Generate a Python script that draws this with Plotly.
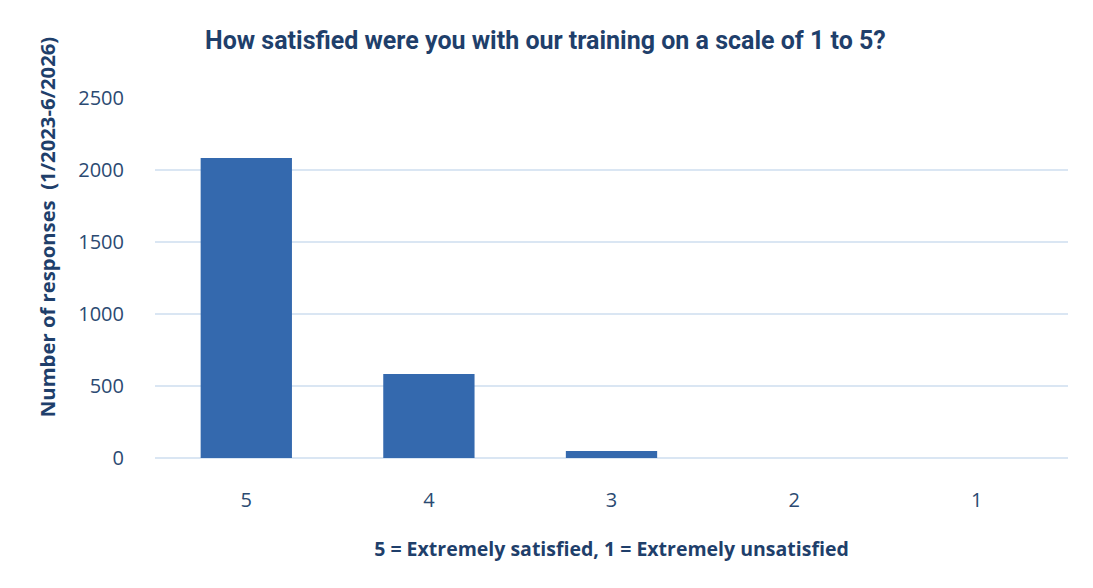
import plotly.graph_objects as go

categories = ["5", "4", "3", "2", "1"]
responses = [2083, 583, 49, 0, 0]
y_ticks = [0, 500, 1000, 1500, 2000, 2500]

navy = "#1f3f6b"
fig = go.Figure(go.Bar(
    x=categories, y=responses, width=0.5,
    marker=dict(color="#3469ae", line=dict(width=0)),
))
fig.update_layout(
    width=1093, height=588,
    margin=dict(l=155, r=25, t=98, b=130),
    plot_bgcolor="white", paper_bgcolor="white",
    title=dict(text="<b>How satisfied were you with our training on a scale of 1 to 5?</b>",
               x=0.499, xanchor="center", y=0.932, yanchor="middle",
               font=dict(family="Roboto", size=25, color=navy)),
    showlegend=False,
    font=dict(family="Open Sans", color="#2b4a72"),
)
fig.update_xaxes(
    showgrid=False, showline=False, ticks="", tickfont=dict(size=20),
    ticklabelstandoff=28,
    title=dict(text="<b>5 = Extremely satisfied, 1 = Extremely unsatisfied</b>",
               font=dict(family="Open Sans", size=19.5, color=navy), standoff=30),
)
fig.update_yaxes(
    range=[0, 2500], tickvals=y_ticks, showgrid=True, gridcolor="#dae6f3", gridwidth=1.5,
    zeroline=True, zerolinecolor="#dae6f3", zerolinewidth=2,
    tickfont=dict(size=20), ticklabelstandoff=30,
)
fig.add_annotation(
    text="<b>Number of responses  (1/2023-6/2026)</b>", textangle=-90,
    xref="paper", yref="paper", x=-0.118, y=0.642, xanchor="center", yanchor="middle",
    showarrow=False, font=dict(family="Open Sans", size=20.3, color=navy),
)
fig.write_html("out.html")
